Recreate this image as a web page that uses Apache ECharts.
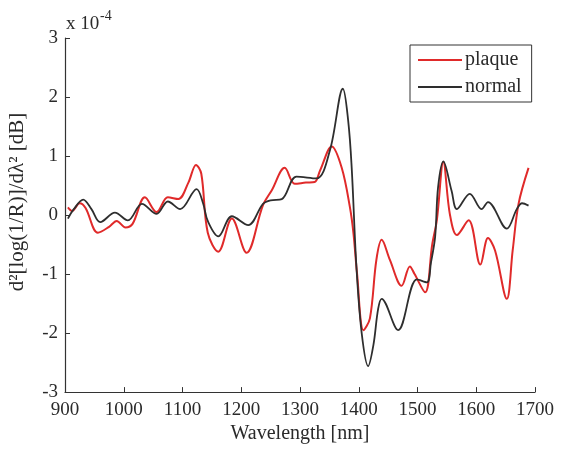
<!DOCTYPE html>
<html>
<head>
<meta charset="utf-8">
<script src="https://cdn.jsdelivr.net/npm/echarts@6/dist/echarts.min.js"></script>
<style>html,body{margin:0;padding:0;background:#fff}#c{width:562px;height:449px}</style>
</head>
<body>
<div id="c"></div>
<script>
// values in units of 1e-4
var plaqueX = [905,912,925,935,956,975,988,1003,1015,1036,1056,1075,1093,1110,1123,1132,1143,1161,1184,1209,1237,1252,1274,1291,1310,1325,1334,1354,1371,1385,1391,1397,1408,1419,1430,1439,1453,1473,1487,1495,1513,1525,1533,1544,1555,1567,1587,1607,1620,1632,1652,1662,1672,1689];
var plaqueY = [0.13,0.07,0.2,0.12,-0.30,-0.2,-0.1,-0.21,-0.15,0.30,0.05,0.3,0.27,0.55,0.85,0.7,-0.3,-0.62,-0.06,-0.64,0.17,0.42,0.8,0.53,0.55,0.56,0.75,1.16,0.8,0.13,-0.31,-0.98,-1.95,-1.75,-0.76,-0.42,-0.76,-1.2,-0.87,-1.0,-1.31,-0.5,-0.08,0.9,0.02,-0.34,-0.09,-0.84,-0.39,-0.6,-1.42,-0.6,0.19,0.8];
var normalX = [905,915,931,945,960,985,1007,1031,1056,1075,1096,1124,1135,1143,1161,1184,1212,1237,1250,1269,1294,1328,1351,1373,1382,1388,1396,1405,1416,1425,1433,1439,1467,1499,1516,1523,1530,1535,1544,1558,1567,1589,1609,1620,1652,1669,1678,1689];
var normalY = [-0.06,0.1,0.26,0.1,-0.12,0.04,-0.09,0.19,0.02,0.23,0.1,0.44,0.2,-0.1,-0.36,-0.02,-0.17,0.19,0.25,0.27,0.65,0.62,1.1,2.14,1.6,0.8,-0.87,-2.0,-2.56,-2.2,-1.59,-1.42,-1.95,-1.09,-1.14,-0.8,-0.37,0.47,0.91,0.41,0.1,0.36,0.1,0.22,-0.23,0.1,0.2,0.16];
var seriesNames = ['plaque','normal'];
var xTicks = [900,1000,1100,1200,1300,1400,1500,1600,1700];
var yTicks = [-3,-2,-1,0,1,2,3];

function pairs(xs, ys){ return xs.map(function(x,i){ return [x, ys[i]]; }); }
var font = 'Liberation Serif';
var axisColor = '#333';
var txt = '#2a2a2a';
var chart = echarts.init(document.getElementById('c'));
chart.setOption({
  animation: false,
  backgroundColor: '#fff',
  grid: {left: 65, right: 27, top: 38, bottom: 51},
  legend: {
    orient: 'vertical', left: 410, top: 45,
    data: seriesNames,
    icon: 'rect',
    borderColor: '#333', borderWidth: 1, borderRadius: 0,
    padding: [5, 10, 5, 8], itemGap: 7,
    itemWidth: 44, itemHeight: 2,
    textStyle: {fontFamily: font, fontSize: 20, color: txt, padding: [0,0,0,-2]}
  },
  xAxis: {
    type: 'value', min: xTicks[0], max: xTicks[xTicks.length-1], interval: 100,
    name: 'Wavelength [nm]', nameLocation: 'middle', nameGap: 31,
    nameTextStyle: {fontFamily: font, fontSize: 20, color: txt},
    axisLine: {onZero: false, lineStyle: {color: axisColor, width: 1.2}},
    axisTick: {inside: true, length: 5, lineStyle: {color: axisColor}},
    axisLabel: {fontFamily: font, fontSize: 19, color: txt, margin: 8, formatter: function(v){ return String(v); }},
    splitLine: {show: false}
  },
  yAxis: {
    type: 'value', min: yTicks[0], max: yTicks[yTicks.length-1], interval: 1,
    axisLine: {show: true, onZero: false, lineStyle: {color: axisColor, width: 1.2}},
    axisTick: {show: true, inside: true, length: 5, lineStyle: {color: axisColor}},
    axisLabel: {fontFamily: font, fontSize: 19, color: txt, margin: 7, formatter: function(v){ return String(v); }},
    splitLine: {show: false}
  },
  graphic: [
    {type: 'text', left: 66, top: 15, style: {text: 'x 10', fontFamily: font, fontSize: 19, fill: txt}},
    {type: 'text', left: 100, top: 9, style: {text: '-4', fontFamily: font, fontSize: 14, fill: txt}},
    {type: 'text', x: 17, y: 202, rotation: Math.PI/2, style: {
      text: 'd²[log(1/R)]/dλ² [dB]', align: 'center', verticalAlign: 'middle',
      fontFamily: font, fontSize: 21, fill: txt
    }}
  ],
  series: [
    {name: seriesNames[0], type: 'line', data: pairs(plaqueX, plaqueY), smooth: 0.35, symbol: 'none',
     lineStyle: {color: '#e02a2a', width: 2}, itemStyle: {color: '#e02a2a'}, z: 2},
    {name: seriesNames[1], type: 'line', data: pairs(normalX, normalY), smooth: 0.35, symbol: 'none',
     lineStyle: {color: '#2e2e2e', width: 1.8}, itemStyle: {color: '#2e2e2e'}, z: 3}
  ]
});
</script>
</body>
</html>
